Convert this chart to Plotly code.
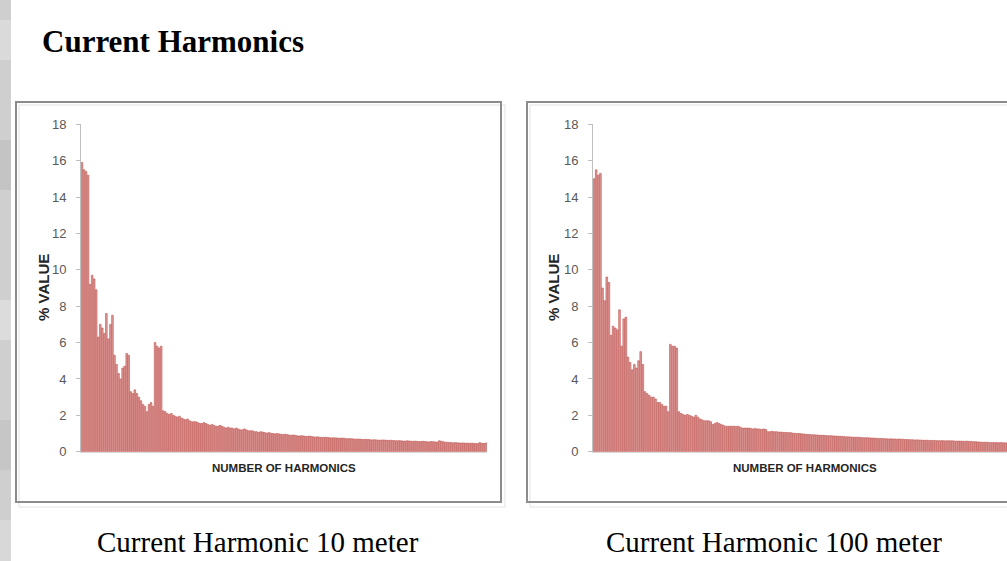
import plotly.graph_objects as go

# ---------------- data ----------------
# each inner list = the samples plotted for one harmonic group
harm_10m = [
    [15.9, 15.5, 15.4, 15.2], [9.2, 9.7, 9.5, 8.9], [6.3, 7.0, 6.8, 6.5], [7.6, 6.2, 7.0, 7.5],
    [5.3, 4.8, 4.3, 4.0], [4.6, 4.7, 5.4, 5.3], [3.3, 3.2, 3.4, 3.2], [3.0, 2.8, 2.6, 2.5],
    [2.2, 2.6, 2.7, 2.5], [6.0, 5.8, 5.7, 5.8], [2.25, 2.2, 2.1, 2.05], [2.1, 2.0, 1.95, 1.9],
    [1.95, 1.85, 1.8, 1.75], [1.8, 1.7, 1.65, 1.65], [1.65, 1.6, 1.55, 1.55], [1.6, 1.55, 1.5, 1.45],
    [1.5, 1.45, 1.4, 1.4], [1.45, 1.4, 1.35, 1.3], [1.35, 1.3, 1.3, 1.25], [1.3, 1.25, 1.2, 1.2],
    [1.25, 1.2, 1.15, 1.15], [1.15, 1.1, 1.1, 1.05], [1.1, 1.08, 1.05, 1.02], [1.05, 1.02, 1.0, 0.98],
    [1.0, 0.98, 0.96, 0.94], [0.96, 0.94, 0.92, 0.9], [0.92, 0.9, 0.88, 0.86], [0.88, 0.87, 0.85, 0.84],
    [0.86, 0.84, 0.82, 0.8], [0.82, 0.8, 0.79, 0.78], [0.8, 0.78, 0.77, 0.76], [0.77, 0.76, 0.75, 0.74],
    [0.75, 0.74, 0.72, 0.71], [0.72, 0.71, 0.7, 0.69], [0.7, 0.69, 0.68, 0.67], [0.68, 0.67, 0.66, 0.65],
    [0.66, 0.65, 0.64, 0.63], [0.65, 0.64, 0.63, 0.62], [0.63, 0.62, 0.61, 0.6], [0.61, 0.6, 0.59, 0.58],
    [0.6, 0.59, 0.58, 0.57], [0.58, 0.57, 0.56, 0.56], [0.57, 0.56, 0.55, 0.54], [0.56, 0.55, 0.54, 0.53],
    [0.6, 0.58, 0.55, 0.52], [0.52, 0.51, 0.5, 0.49], [0.5, 0.49, 0.48, 0.48], [0.48, 0.47, 0.47, 0.46],
    [0.47, 0.46, 0.45, 0.45], [0.5, 0.46, 0.45, 0.48],
]

harm_100m = [
    [15.0, 15.5, 15.2, 15.3], [9.0, 8.3, 9.6, 9.3], [6.4, 6.9, 6.8, 6.7], [7.8, 5.8, 7.3, 7.4],
    [5.2, 4.9, 4.5, 4.8], [4.6, 5.0, 5.5, 4.8], [3.3, 3.2, 3.1, 3.0], [3.0, 2.9, 2.7, 2.7],
    [2.6, 2.5, 2.5, 2.2], [5.9, 5.8, 5.8, 5.7], [2.2, 2.1, 2.05, 2.0], [2.05, 2.0, 1.95, 1.9],
    [2.0, 1.9, 1.8, 1.75], [1.7, 1.7, 1.7, 1.65], [1.5, 1.55, 1.6, 1.55], [1.5, 1.45, 1.4, 1.4],
    [1.4, 1.4, 1.4, 1.38], [1.4, 1.35, 1.3, 1.3], [1.3, 1.3, 1.28, 1.25], [1.28, 1.25, 1.25, 1.22],
    [1.25, 1.22, 1.1, 1.1], [1.12, 1.1, 1.1, 1.08], [1.08, 1.07, 1.06, 1.05], [1.05, 1.04, 1.02, 1.01],
    [1.0, 1.0, 0.98, 0.97], [0.96, 0.95, 0.94, 0.93], [0.93, 0.92, 0.91, 0.9], [0.9, 0.89, 0.88, 0.88],
    [0.88, 0.87, 0.86, 0.85], [0.85, 0.84, 0.83, 0.82], [0.82, 0.81, 0.8, 0.8], [0.8, 0.79, 0.78, 0.77],
    [0.77, 0.77, 0.76, 0.75], [0.75, 0.74, 0.73, 0.73], [0.72, 0.72, 0.71, 0.7], [0.71, 0.7, 0.7, 0.69],
    [0.7, 0.69, 0.68, 0.67], [0.67, 0.66, 0.66, 0.65], [0.65, 0.65, 0.64, 0.63], [0.63, 0.63, 0.62, 0.62],
    [0.62, 0.61, 0.61, 0.6], [0.61, 0.6, 0.6, 0.6], [0.6, 0.6, 0.59, 0.58], [0.59, 0.58, 0.58, 0.57],
    [0.58, 0.57, 0.56, 0.55], [0.55, 0.54, 0.53, 0.52], [0.52, 0.52, 0.51, 0.5], [0.5, 0.5, 0.5, 0.49],
    [0.5, 0.49, 0.49, 0.48], [0.49, 0.48, 0.48, 0.47],
]

y_ticks = [0, 2, 4, 6, 8, 10, 12, 14, 16, 18]
page_title = "Current Harmonics"
captions = ["Current Harmonic 10 meter", "Current Harmonic 100 meter"]
x_title = "NUMBER OF HARMONICS"
y_title = "% VALUE"

# ---------------- layout helpers ----------------
W, H = 1007, 561


def px(x):
    return x / W


def py(y):
    return 1 - y / H


def flat(groups):
    return [v for g in groups for v in g]


v10 = flat(harm_10m)
v100 = flat(harm_100m)
idx10 = list(range(len(v10)))
idx100 = list(range(len(v100)))

bar_fill = "#dc9c9a"
bar_line = "#c0504d"

fig = go.Figure()
fig.add_trace(go.Bar(x=idx10, y=v10, xaxis="x", yaxis="y",
                     marker=dict(color=bar_fill, line=dict(color=bar_line, width=0.6)),
                     showlegend=False, hoverinfo="y"))
fig.add_trace(go.Bar(x=idx100, y=v100, xaxis="x2", yaxis="y2",
                     marker=dict(color=bar_fill, line=dict(color=bar_line, width=0.6)),
                     showlegend=False, hoverinfo="y"))

tick_font = dict(family="Liberation Sans, Arial", size=13, color="#595959")
ydom = [py(451.7), py(124.3)]
n = len(v10)
right_extent = -0.5 + n * (1007 - 593) / 424.0

common_x = dict(showticklabels=False, ticks="", showgrid=False, zeroline=False,
                showline=True, linecolor="#d9d9d9", linewidth=1, fixedrange=True,
                automargin=False)
common_y = dict(range=[0, 18], tickvals=y_ticks, ticks="outside", ticklen=4,
                tickcolor="#bfbfbf", tickwidth=1, showline=True, linecolor="#bfbfbf",
                linewidth=1, showgrid=False, zeroline=False, tickfont=tick_font,
                ticklabelstandoff=7, fixedrange=True, automargin=False)

fig.update_layout(
    width=W, height=H,
    margin=dict(l=0, r=0, t=0, b=0, pad=0, autoexpand=False),
    paper_bgcolor="white", plot_bgcolor="rgba(0,0,0,0)",
    bargap=0.2,
    xaxis=dict(domain=[px(81), px(487)], range=[-0.5, n - 0.5], anchor="y", **common_x),
    yaxis=dict(domain=ydom, anchor="x", **common_y),
    xaxis2=dict(domain=[px(593), 1.0], range=[-0.5, right_extent], anchor="y2", **common_x),
    yaxis2=dict(domain=ydom, anchor="x2", **common_y),
)

shapes = []
# textured page strip on the left
shapes.append(dict(type="rect", xref="paper", yref="paper", x0=0, x1=px(11), y0=0, y1=1,
                   fillcolor="#cfcfcf", line=dict(width=0), layer="below"))
for (a, b, c) in [(20, 60, "#dadada"), (140, 190, "#c4c4c4"), (300, 340, "#dcdcdc"),
                  (420, 470, "#c6c6c6"), (520, 561, "#d8d8d8")]:
    shapes.append(dict(type="rect", xref="paper", yref="paper", x0=0, x1=px(11),
                       y0=py(b), y1=py(a), fillcolor=c, line=dict(width=0), layer="below"))
# chart frames
for (x0, x1) in [(16, 501), (527, 1012)]:
    shapes.append(dict(type="rect", xref="paper", yref="paper",
                       x0=px(x0 + 3), x1=px(x1 + 4), y0=py(507), y1=py(105),
                       line=dict(color="#e3e3e3", width=1), layer="below"))
    shapes.append(dict(type="rect", xref="paper", yref="paper",
                       x0=px(x0), x1=px(x1), y0=py(502), y1=py(102),
                       line=dict(color="#8c8c8c", width=2), layer="below"))

serif = "Liberation Serif, Times New Roman, serif"
annotations = [
    dict(text="<b>" + page_title + "</b>", xref="paper", yref="paper",
         x=px(40), y=py(42), xanchor="left", yanchor="middle", showarrow=False,
         font=dict(family=serif, size=31, color="black")),
    dict(text=captions[0], xref="paper", yref="paper", x=px(258), y=py(542),
         xanchor="center", yanchor="middle", showarrow=False,
         font=dict(family=serif, size=29, color="black")),
    dict(text=captions[1], xref="paper", yref="paper", x=px(604), y=py(542),
         xanchor="left", yanchor="middle", showarrow=False,
         font=dict(family=serif, size=29, color="black")),
]
for cx, ycx in [(284, 43), (805, 553)]:
    annotations.append(dict(text="<b>" + x_title + "</b>", xref="paper", yref="paper",
                            x=px(cx), y=py(468), xanchor="center", yanchor="middle", showarrow=False,
                            font=dict(family="Liberation Sans, Arial", size=11.5, color="#262626")))
    annotations.append(dict(text="<b>" + y_title + "</b>", xref="paper", yref="paper",
                            x=px(ycx), y=py(288), xanchor="center", yanchor="middle", showarrow=False,
                            textangle=-90,
                            font=dict(family="Liberation Sans, Arial", size=15, color="#262626")))

fig.update_layout(shapes=shapes, annotations=annotations)
fig.write_html("out.html", config={"displayModeBar": False},
               post_script="document.body.style.margin='0px';")
